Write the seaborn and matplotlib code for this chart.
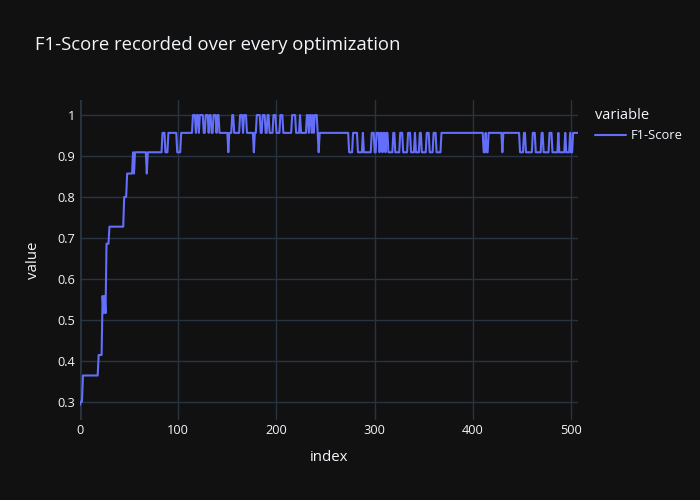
import numpy as np
import pandas as pd
import matplotlib
matplotlib.use("Agg")
import matplotlib.pyplot as plt
import seaborn as sns
from matplotlib.ticker import FuncFormatter

runs = [
    (0.2917, 1), (0.30, 2), (0.3636, 16), (0.4138, 4), (0.5581, 1), (0.5161, 1),
    (0.5581, 1), (0.5161, 1), (0.6857, 3), (0.7273, 15),
    (0.80, 3), (0.8571, 6), (0.9091, 1), (0.8571, 1), (0.9091, 12), (0.8571, 1),
    (0.9091, 15), (0.9565, 3), (0.9091, 3), (0.9565, 9), (0.9091, 4), (0.9565, 12),
    (1.0, 3), (0.9565, 1), (1.0, 2), (0.9565, 1), (1.0, 4), (0.9565, 2), (1.0, 3),
    (0.9565, 1), (1.0, 2), (0.9565, 2), (1.0, 3), (0.9565, 1), (1.0, 2), (0.9565, 9),
    (0.9091, 1), (0.9565, 3), (1.0, 2), (0.9565, 6), (1.0, 3), (0.9565, 1), (1.0, 3),
    (0.9565, 7), (0.9091, 1), (0.9565, 2),
    (1.0, 4), (0.9565, 2), (1.0, 3), (0.9565, 2), (1.0, 2), (0.9565, 4), (1.0, 3),
    (0.9565, 4), (1.0, 3), (0.9565, 9), (1.0, 4), (0.9565, 4), (1.0, 1), (0.9565, 6),
    (1.0, 2), (0.9565, 1), (1.0, 2), (0.9565, 1), (1.0, 1), (0.9565, 1), (1.0, 3),
    (0.9565, 1), (0.9091, 1), (0.9565, 30),
    (0.9091, 4), (0.9565, 5), (0.9091, 5), (0.9565, 1), (0.9091, 8), (0.9565, 3),
    (0.9091, 2), (0.9565, 3), (0.9091, 1), (0.9565, 2), (0.9091, 1), (0.9565, 2),
    (0.9091, 1), (0.9565, 2), (0.9091, 5), (0.9565, 2), (0.9091, 5), (0.9565, 3),
    (0.9091, 5), (0.9565, 3), (0.9091, 4), (0.9565, 1), (0.9091, 4), (0.9565, 2),
    (0.9091, 5), (0.9565, 3), (0.9091, 4), (0.9565, 3), (0.9091, 5), (0.9565, 43),
    (0.9091, 2), (0.9565, 1), (0.9091, 2), (0.9565, 14), (0.9091, 1), (0.9565, 17),
    (0.9091, 4), (0.9565, 2), (0.9091, 7), (0.9565, 3), (0.9091, 6), (0.9565, 2),
    (0.9091, 6), (0.9565, 3), (0.9091, 6), (0.9565, 1), (0.9091, 6), (0.9565, 1),
    (0.9091, 4), (0.9565, 1), (0.9091, 2), (0.9565, 6),
]
run_values = [v for v, _ in runs]
run_lengths = [c for _, c in runs]
series_name = "F1-Score"
x_ticks = [0, 100, 200, 300, 400, 500]
y_ticks = [0.3, 0.4, 0.5, 0.6, 0.7, 0.8, 0.9, 1.0]

values = np.repeat(run_values, run_lengths)
df = pd.DataFrame({"index": np.arange(len(values)), "value": values,
                   "variable": series_name})

# ---- style (plotly_dark look) ----
BG = "#111111"
GRID = "#283442"
TXT = "#f2f5fa"
LINE = "#636efa"

sns.set_theme(style="dark")
plt.rcParams["font.family"] = ["Open Sans", "DejaVu Sans"]

fig = plt.figure(figsize=(7, 5), dpi=100, facecolor=BG)
ax = fig.add_axes([80 / 700, 80 / 500, 498 / 700, 320 / 500])
ax.set_facecolor(BG)

sns.lineplot(data=df, x="index", y="value", hue="variable",
             palette=[LINE], linewidth=1.5, ax=ax, legend=True)

n = len(values)
ax.set_xlim(0, n - 1)
vmin, vmax = values.min(), values.max()
pad = (vmax - vmin) * 0.052
ax.set_ylim(vmin - pad, vmax + pad)

ax.set_xticks(x_ticks)
ax.set_yticks(y_ticks)
ax.yaxis.set_major_formatter(FuncFormatter(lambda v, p: f"{v:g}"))

ax.grid(True, color=GRID, linewidth=1)
ax.set_axisbelow(True)
ax.axvline(0, color=GRID, linewidth=2, zorder=0)
for s in ax.spines.values():
    s.set_visible(False)
ax.tick_params(axis="both", colors=TXT, labelsize=9.2, length=0)
ax.tick_params(axis="x", pad=3)
ax.tick_params(axis="y", pad=3.5)

ax.set_xlabel("index", color=TXT, fontsize=10.8, labelpad=9)
ax.set_ylabel("value", color=TXT, fontsize=10.8, labelpad=12)

fig.text(35 / 700, 1 - 45 / 500, "F1-Score recorded over every optimization",
         color=TXT, fontsize=13.3, va="center", ha="left")

sns.move_legend(ax, "upper left", bbox_to_anchor=(583 / 700, 1 - 96 / 500),
                bbox_transform=fig.transFigure, frameon=False, title="variable",
                fontsize=9.3, title_fontsize=10.5, handlelength=2.4,
                handletextpad=0.4, alignment="left")
leg = ax.get_legend()
leg.get_title().set_color(TXT)
for t in leg.get_texts():
    t.set_color(TXT)

fig.savefig("out.png", dpi=100, facecolor=BG)
